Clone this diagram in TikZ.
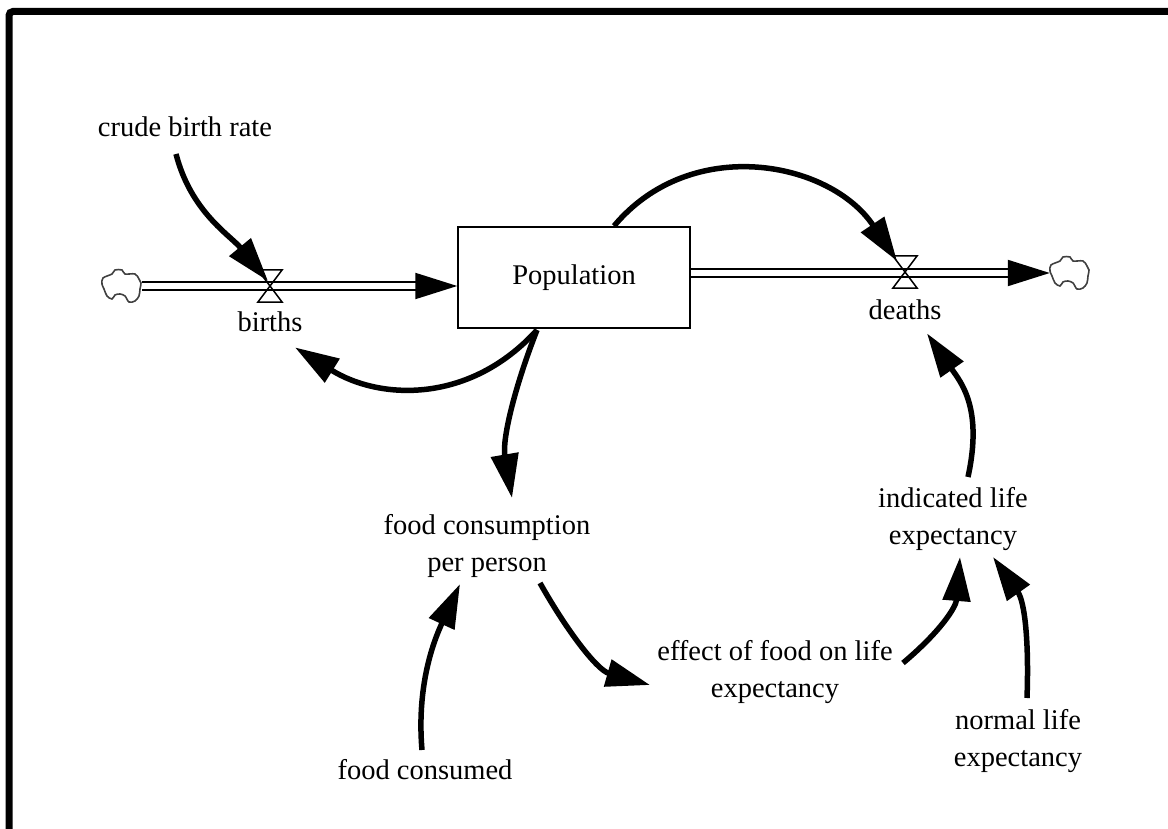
\documentclass[tikz,border=0pt]{standalone}
\usepackage{fontspec}
\setmainfont{Liberation Serif}
\usetikzlibrary{arrows.meta, positioning, calc}
\tikzset{
  var/.style={inner sep=0pt, align=center, font=\fontsize{28.5}{37}\selectfont},
  stock/.style={rectangle, draw, line width=1.5pt, minimum width=232pt,
                minimum height=101pt, font=\fontsize{28.5}{37}\selectfont},
  valve/.style={rectangle, minimum width=24pt, minimum height=32pt, inner sep=0pt},
  valveline/.style={line width=1.5pt, line join=miter},
  cloudnode/.style={rectangle, minimum width=40pt, minimum height=32pt, inner sep=0pt},
  link/.style={line width=5.5pt, -{Triangle[length=44pt, width=27pt]}},
  flow/.style={double, double distance=6pt, line width=2pt,
               -{Triangle[length=42pt, width=26pt]}},
  cloudpic/.pic={\draw[line width=1.6pt, black!75] plot[smooth cycle, tension=0.55]
    coordinates {(-19,-8) (-10,-12) (-7,-16) (0,-16) (3,-12) (13,-12) (17,-7) (19,-3)
                 (18,3) (17,10) (13,15) (7,16) (3,10) (-2,8) (-7,9) (-10,13) (-15,10)
                 (-18,3) (-20,-2)};},
}
\begin{document}
\begin{tikzpicture}[x=1pt, y=-1pt]
  \useasboundingbox (0,0) rectangle (1168,829);
  \draw[line width=7pt, rounded corners=4pt] (9,829) -- (9,11.5) -- (1168,11.5);

  % stock and flows
  \node[stock] (pop) at (574,277.5) {\raisebox{-3pt}{Population}};
  \node[cloudnode] (src) at (122,286) {};
  \node[cloudnode] (snk) at (1070,273) {};
  \node[valve] (vb) at (270,286) {};
  \node[valve] (vd) at (905,272) {};
  \node[var, below=9pt of vb] (births) {births};
  \node[var, below=11pt of vd] (deaths) {deaths};
  \pic at (src) {cloudpic};
  \pic at (snk) {cloudpic};
  \draw[flow] (src.east) -- (src.east -| pop.west);
  \draw[flow] (pop.east |- snk) -- (snk.west);
  \foreach \v in {vb, vd}
    \draw[valveline] (\v.north west) -- (\v.north east) -- (\v.south west) -- (\v.south east) -- cycle;

  % auxiliaries
  \node[var] (cbr) at (185,127) {crude birth rate};
  \node[var] (fcpp) at (487,546) {food consumption\\per person};
  \node[var] (fc) at (425,770) {food consumed};
  \node[var] (efle) at (775,672) {effect of food on life\\expectancy};
  \node[var] (ile) at (953,519) {indicated life\\expectancy};
  \node[var] (nle) at (1018,741) {normal life\\expectancy};

  % links
  \draw[link] ($(cbr)+(-9,27)$) .. controls +(15,58) and +(-38,-46) .. ($(vb)+(-2,-5)$);
  \draw[link] ($(pop)+(-37,52.5)$) .. controls +(-67,74) and +(85,53) .. ($(births)+(25,26)$);
  \draw[link] ($(pop)+(-37,52.5)$) .. controls +(-22,56) and +(-10,-59) .. ($(fcpp)+(25,-48)$);
  \draw[link] ($(pop)+(40,-51.5)$) .. controls +(77,-92) and +(-67,-100) .. ($(vd)+(-8,-11)$);
  \draw[link] ($(fcpp)+(53,37)$) .. controls +(27,48) and +(-53,-15) .. ($(efle)+(-125,13)$);
  \draw[link] ($(fc)+(-3,-20)$) .. controls +(-6,-70) and +(-23,50) .. ($(fcpp)+(-27,38)$);
  \draw[link] ($(efle)+(128,-9)$) .. controls +(38,-32) and +(-4,50) .. ($(ile)+(7,38)$);
  \draw[link] ($(nle)+(9,-43)$) .. controls +(2,-55) and +(32,45) .. ($(ile)+(40,38)$);
  \draw[link] ($(ile)+(15,-42)$) .. controls +(15,-69) and +(34,49) .. ($(deaths)+(22,24)$);
\end{tikzpicture}
\end{document}
